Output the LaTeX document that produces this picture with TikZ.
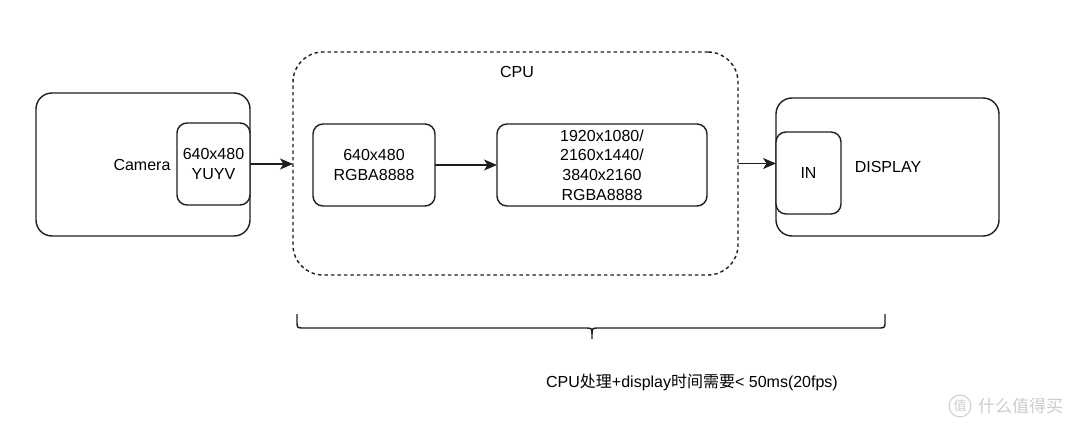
\documentclass[tikz,border=0pt]{standalone}
\usepackage{fontspec}
\setmainfont{Liberation Sans}
\newfontfamily\cjk{Noto Sans CJK SC}
\usetikzlibrary{arrows.meta}
\definecolor{ln}{RGB}{30,30,30}
\definecolor{wm}{RGB}{205,205,205}
\tikzset{
  box/.style={draw=ln, line width=1.4pt, fill=white, rectangle, inner sep=0pt, outer sep=0pt,
              align=center, font=\fontsize{16}{19.6}\selectfont},
  lbl/.style={inner sep=0pt, font=\fontsize{16}{19.6}\selectfont},
  arr/.style={draw=ln, line width=1.4pt, -{Stealth[length=13pt,width=11pt,inset=3.5pt]}},
  wmtext/.style={inner sep=0pt, text=wm, font=\cjk\fontsize{17}{17}\selectfont}
}
\begin{document}
\begin{tikzpicture}[x=1pt,y=-1pt]
\useasboundingbox[fill=white] (0,0) rectangle (1080,433);
% Camera
\node[box, rounded corners=16pt, minimum width=214pt, minimum height=143pt] (cam) at (143,164.5) {};
\node[box, rounded corners=10pt, minimum width=73pt, minimum height=82pt] (yuyv) at (213.5,164) {640x480\\YUYV};
\node[lbl] (camlbl) at (142,165) {Camera};
% CPU
\node[box, dash pattern=on 3.5pt off 3pt, fill=none, rounded corners=30pt, minimum width=445pt, minimum height=223pt] (cpu) at (515.5,163.5) {};
\node[lbl] (cpulbl) at (517,72) {CPU};
\node[box, rounded corners=10pt, minimum width=122pt, minimum height=82pt] (b1) at (374,165) {640x480\\RGBA8888};
\node[box, rounded corners=10pt, minimum width=210pt, minimum height=82pt] (b2) at (602,165) {1920x1080/\\2160x1440/\\3840x2160\\RGBA8888};
% Display
\node[box, rounded corners=16pt, minimum width=223pt, minimum height=138pt] (disp) at (887.5,167) {};
\node[box, rounded corners=10pt, minimum width=65pt, minimum height=82pt] (inb) at (808.5,173) {IN};
\node[lbl] (displbl) at (888,167) {DISPLAY};
% connectors
\draw[arr] (yuyv.east) -- (yuyv.east -| cpu.west);
\draw[arr] (b1) -- (b2);
\draw[arr] (cpu.east) -- (cpu.east -| inb.west);
% brace
\coordinate (brL) at (297,314);
\coordinate (brR) at (885,314);
\coordinate (brT) at (592,339);
\draw[ln, line width=1.4pt]
  (brL) -- (297,321) .. controls (297,328) .. (304,328) -- (584,328)
  .. controls (592,328) .. (592,334) -- (brT);
\draw[ln, line width=1.4pt]
  (592,334) .. controls (592,328) .. (600,328) -- (878,328)
  .. controls (885,328) .. (885,321) -- (brR);
\node[lbl] (note) at (692,382) {CPU{\cjk 处理}+display{\cjk 时间需要}< 50ms(20fps)};
% watermark
\node[wmtext, draw=wm, line width=1pt, circle, inner sep=1.5pt, font=\cjk\fontsize{13}{13}\selectfont] (wmc) at (960,406) {值};
\node[wmtext, anchor=west] (wmt) at (978,406) {什么值得买};
\end{tikzpicture}
\end{document}
